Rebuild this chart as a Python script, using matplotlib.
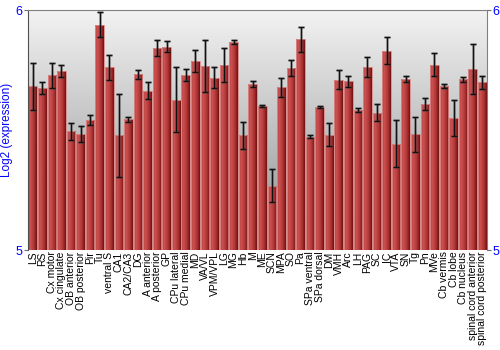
import numpy as np
import matplotlib
matplotlib.use("Agg")
import matplotlib.pyplot as plt
from matplotlib.colors import LinearSegmentedColormap

regions = ["LS", "RS", "Cx motor", "Cx cingulate", "OB anterior", "OB posterior",
           "Pir", "Tu", "ventral S", "CA1", "CA2/CA3", "DG", "A anterior",
           "A posterior", "GP", "CPu lateral", "CPu medial", "MD", "VA/VL",
           "VPM/VPL", "LG", "MG", "Hb", "M", "ME", "SCN", "MPA", "SO", "Pa",
           "SPa ventral", "SPa dorsal", "DM", "VMH", "Arc", "LH", "PAG", "SC",
           "IC", "VTA", "SN", "Tg", "Pn", "MVe", "Cb vermis", "Cb lobe",
           "Cb nucleus", "spinal cord anterior", "spinal cord posterior"]

expr = [5.683, 5.674, 5.728, 5.747, 5.494, 5.483, 5.542, 5.939, 5.762, 5.478,
        5.545, 5.733, 5.664, 5.840, 5.847, 5.626, 5.729, 5.789, 5.767, 5.718,
        5.771, 5.867, 5.478, 5.692, 5.600, 5.268, 5.678, 5.760, 5.878, 5.472,
        5.596, 5.481, 5.710, 5.703, 5.583, 5.761, 5.572, 5.831, 5.443, 5.714,
        5.483, 5.608, 5.771, 5.683, 5.550, 5.711, 5.754, 5.699]

err = [0.098, 0.024, 0.053, 0.025, 0.035, 0.035, 0.022, 0.051, 0.052, 0.174,
       0.011, 0.019, 0.035, 0.033, 0.024, 0.135, 0.024, 0.046, 0.108, 0.044,
       0.069, 0.008, 0.056, 0.012, 0.003, 0.069, 0.040, 0.033, 0.053, 0.006,
       0.006, 0.047, 0.038, 0.024, 0.007, 0.042, 0.035, 0.055, 0.097, 0.013,
       0.073, 0.026, 0.048, 0.007, 0.074, 0.010, 0.106, 0.028]

ymin, ymax = 5, 6
blue = "#0000ff"

plt.rcParams['font.family'] = ['Liberation Sans', 'DejaVu Sans']

fig = plt.figure(figsize=(5, 3.5), dpi=100)
ax = fig.add_axes([0.056, 0.2857, 0.918, 0.6857])

x = np.arange(len(regions))
ax.set_xlim(-0.5, len(regions) - 0.5)
ax.set_ylim(ymin, ymax)

# background gradient
bg = LinearSegmentedColormap.from_list("bg", ["#8e8e8e", "#f3f3f3"])
ax.imshow(np.linspace(0, 1, 256).reshape(-1, 1), cmap=bg, aspect="auto",
          extent=(-0.5, len(regions) - 0.5, ymin, ymax), origin="lower", zorder=0)

bars = ax.bar(x, np.array(expr) - ymin, bottom=ymin, width=0.9,
              facecolor="none", edgecolor="#d98a8a", linewidth=0.6, zorder=2)

# horizontal shading on each bar
barmap = LinearSegmentedColormap.from_list(
    "bar", [(0, "#b94040"), (0.25, "#cc5252"), (0.6, "#b43a3a"), (0.85, "#93201f"), (1, "#6e1010")])
grad = np.linspace(0, 1, 64).reshape(1, -1)
for p in bars:
    im = ax.imshow(grad, cmap=barmap, aspect="auto", zorder=1,
                   extent=(p.get_x(), p.get_x() + p.get_width(),
                           p.get_y(), p.get_y() + p.get_height()))
    im.set_clip_path(p)

# soft grey halo behind the error bars, then the bars themselves
ax.errorbar(x, expr, yerr=err, fmt="none", ecolor="#555555", elinewidth=2,
            capsize=2.3, capthick=2, alpha=0.35, zorder=3)
ax.errorbar(x, expr, yerr=err, fmt="none", ecolor="#111111", elinewidth=1,
            capsize=2, capthick=1, zorder=4)

ax.set_xticks(x)
ax.set_xticklabels(regions, rotation=90, fontsize=7.5)
ax.tick_params(axis="x", length=0, pad=1)

ax.set_yticks([ymin, ymax])
ax.set_yticklabels(["5", "6"])
ax.tick_params(axis="y", colors="#707070", labelcolor=blue, labelsize=9,
               length=3, direction="out", left=True, right=True,
               labelleft=True, labelright=True, pad=1)
ax.set_ylabel("Log2 (expression)", color=blue, fontsize=8.5, labelpad=2)

for side in ["top", "right"]:
    ax.spines[side].set_color("#808080")
ax.spines["left"].set_color("#505050")
ax.spines["bottom"].set_visible(False)

fig.savefig("out.png", dpi=100)
